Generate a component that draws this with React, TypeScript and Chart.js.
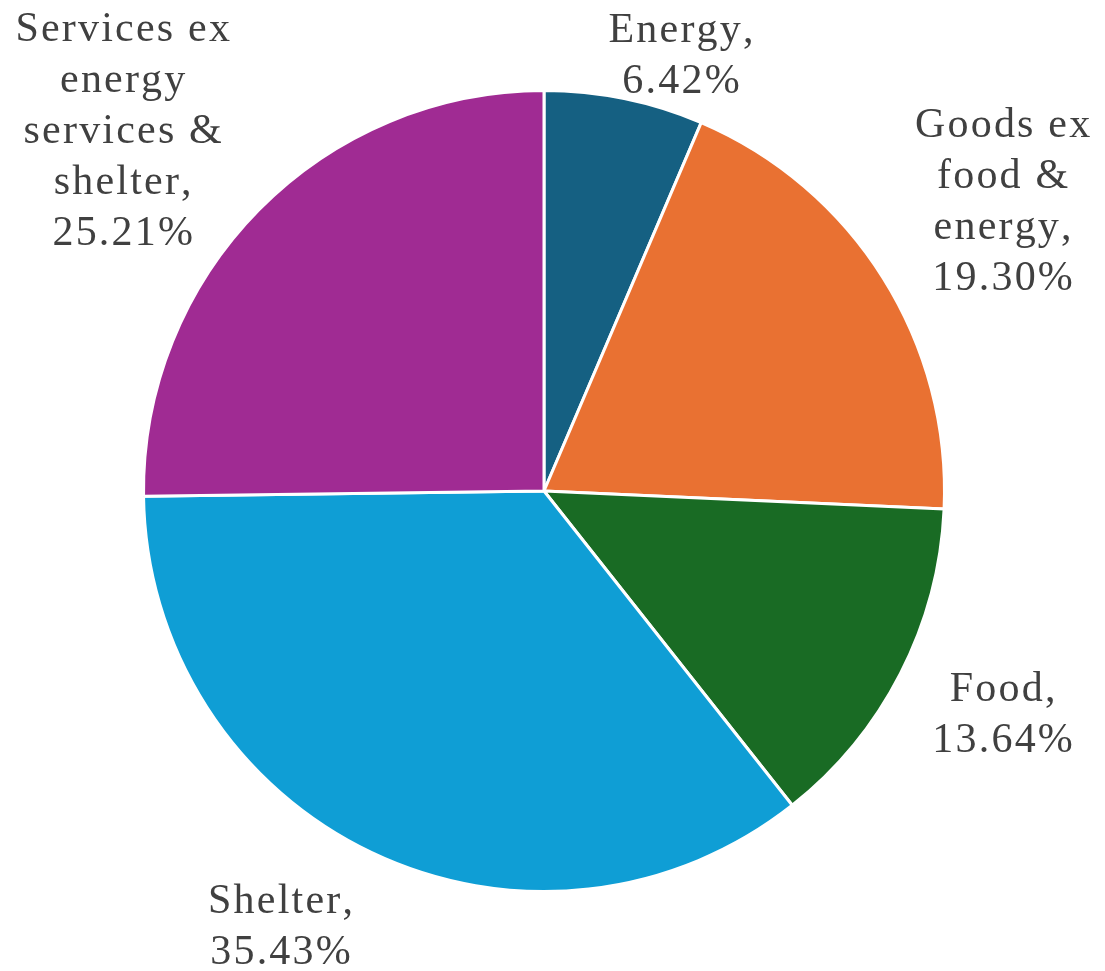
import React, { useEffect, useRef } from "react";
import { Chart, registerables } from "chart.js";

Chart.register(...registerables);

const categories = [
  "Energy",
  "Goods ex food & energy",
  "Food",
  "Shelter",
  "Services ex energy services & shelter",
];
const values = [6.42, 19.3, 13.64, 35.43, 25.21];
const labelLines = [
  ["Energy,"],
  ["Goods ex", "food &", "energy,"],
  ["Food,"],
  ["Shelter,"],
  ["Services ex", "energy", "services &", "shelter,"],
];
const colors = ["#156082", "#E97132", "#196B24", "#0F9ED5", "#A02B93"];

// label anchor offsets in units of the pie radius (relative to pie centre)
const labelOffsets = [
  [0.342, -1.092],
  [1.145, -0.728],
  [1.145, 0.554],
  [-0.658, 1.082],
  [-1.052, -0.903],
];

const LINE_H = 51;
const SPACING = 2.2;
const FONT = "42px 'Liberation Serif', serif";

function drawSpaced(ctx: CanvasRenderingContext2D, text: string, cx: number, y: number) {
  const chars = Array.from(text);
  const widths = chars.map((c) => ctx.measureText(c).width);
  const total = widths.reduce((a, b) => a + b, 0) + SPACING * (chars.length - 1);
  let x = cx - total / 2;
  chars.forEach((c, k) => {
    ctx.fillText(c, x, y);
    x += widths[k] + SPACING;
  });
}

const labelPlugin = {
  id: "pieLabels",
  afterDraw(chart: any) {
    const ctx = chart.ctx as CanvasRenderingContext2D;
    const meta = chart.getDatasetMeta(0);
    ctx.save();
    ctx.font = FONT;
    ctx.fillStyle = "#404040";
    ctx.textAlign = "left";
    ctx.textBaseline = "alphabetic";
    meta.data.forEach((arc: any, i: number) => {
      const r = arc.outerRadius;
      const cx = arc.x + labelOffsets[i][0] * r;
      const cy = arc.y + labelOffsets[i][1] * r;
      const lines = [...labelLines[i], values[i].toFixed(2) + "%"];
      const n = lines.length;
      lines.forEach((t, j) => {
        const by = cy + (j - (n - 1) / 2) * LINE_H + 14;
        drawSpaced(ctx, t, cx, by);
      });
    });
    ctx.restore();
  },
};

export default function App() {
  const ref = useRef<HTMLCanvasElement | null>(null);
  useEffect(() => {
    document.body.style.margin = "0";
    const canvas = ref.current!;
    const chart = new Chart(canvas, {
      type: "pie",
      data: {
        labels: categories,
        datasets: [
          {
            data: values,
            backgroundColor: colors,
            borderColor: "#ffffff",
            borderWidth: 3,
          },
        ],
      },
      options: {
        responsive: false,
        animation: false,
        layout: { padding: { left: 142, right: 159, top: 89, bottom: 78 } },
        plugins: {
          legend: { display: false },
          tooltip: { enabled: false },
        },
      },
      plugins: [labelPlugin],
    });
    let alive = true;
    const redraw = () => {
      if (alive) chart.draw();
    };
    try {
      (document as any).fonts.load(FONT).then(redraw, redraw);
      (document as any).fonts.ready.then(redraw);
    } catch (e) {}
    const t = setTimeout(redraw, 50);
    return () => {
      alive = false;
      clearTimeout(t);
      chart.destroy();
    };
  }, []);
  return (
    <div style={{ width: 1105, height: 971, background: "#ffffff", position: "relative" }}>
      <span
        style={{
          position: "absolute",
          left: 0,
          top: 0,
          fontFamily: "'Liberation Serif'",
          fontSize: 42,
          color: "transparent",
          pointerEvents: "none",
        }}
        aria-hidden="true"
      >
        .
      </span>
      <canvas ref={ref} width={1105} height={971} style={{ display: "block" }} />
    </div>
  );
}
